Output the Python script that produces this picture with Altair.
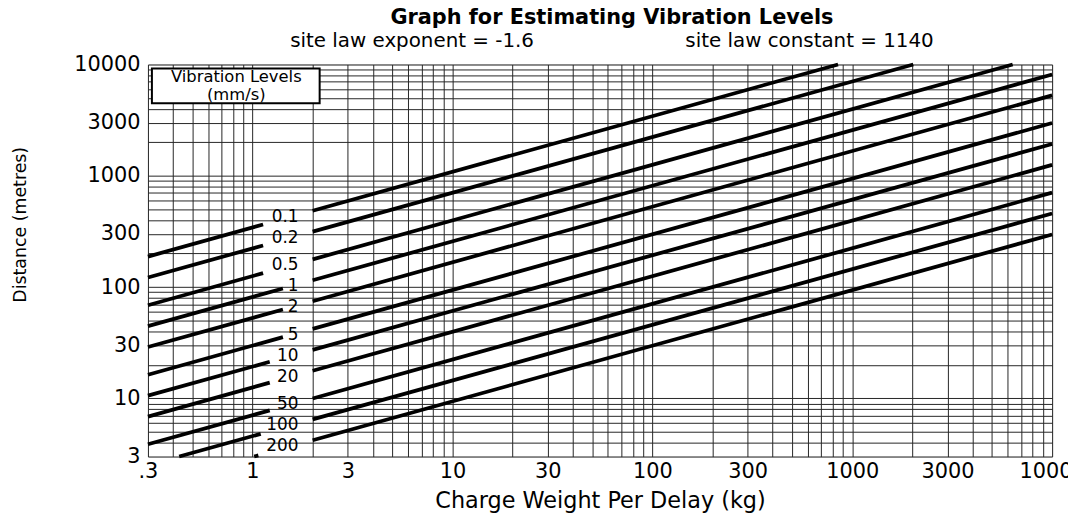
import altair as alt
import pandas as pd

# ---------------- data ----------------
levels = ["0.1", "0.2", "0.5", "1", "2", "5", "10", "20", "50", "100", "200"]

# left segment of each line (left of the label gap)
left_w0 = [0.3, 0.3, 0.3, 0.3, 0.3, 0.3, 0.3, 0.3, 0.3, 0.43, 1.02]
left_d0 = [187.9, 121.9, 68.7, 44.6, 28.9, 16.3, 10.57, 6.86, 3.87, 3.0, 3.0]
left_w1 = [1.13, 1.13, 1.13, 1.42, 1.42, 1.42, 1.22, 1.22, 1.22, 1.10, 1.07]
left_d1 = [364.7, 236.5, 133.4, 97.0, 62.9, 35.5, 21.3, 13.83, 7.80, 4.80, 3.07]

# right segment of each line (right of the label gap)
right_w0 = [2, 2, 2, 2, 2, 2, 2, 2, 2, 2, 2]
right_d0 = [485.2, 314.7, 177.5, 115.1, 74.6, 42.1, 27.3, 17.7, 9.98, 6.47, 4.20]
right_w1 = [849.5, 2020, 6349, 10000, 10000, 10000, 10000, 10000, 10000, 10000, 10000]
right_d1 = [10000, 10000, 10000, 8139, 5277, 2977, 1930, 1252, 706, 458, 297]

# level labels
label_w = [1.70] * 11
label_d = [446, 289, 163, 105.8, 68.6, 38.7, 25.1, 16.3, 9.18, 5.95, 3.86]

# axis ticks
x_tick_vals = [0.3, 1, 3, 10, 30, 100, 300, 1000, 3000, 10000]
x_tick_text = [".3", "1", "3", "10", "30", "100", "300", "1000", "3000", "10000"]
y_tick_vals = [3, 10, 30, 100, 300, 1000, 3000, 10000]
y_tick_text = ["3", "10", "30", "100", "300", "1000", "3000", "10000"]
grid_mult = [1, 2, 3, 4, 5, 6, 7, 8, 9]

# ---------------- tables ----------------
rows = []
for i, lv in enumerate(levels):
    rows.append({"seg": "L" + lv, "W": left_w0[i], "D": left_d0[i], "o": 0})
    rows.append({"seg": "L" + lv, "W": left_w1[i], "D": left_d1[i], "o": 1})
    rows.append({"seg": "R" + lv, "W": right_w0[i], "D": right_d0[i], "o": 0})
    rows.append({"seg": "R" + lv, "W": right_w1[i], "D": right_d1[i], "o": 1})
lines_df = pd.DataFrame(rows)
labels_df = pd.DataFrame({"W": label_w, "D": label_d, "lab": levels})


def grid_values(lo, hi):
    out = []
    for e in range(-2, 6):
        for m in grid_mult:
            v = round(m * 10 ** e, 6)
            if lo <= v <= hi:
                out.append(v)
    return sorted(set(out))


def label_expr(vals, texts):
    e = "''"
    for v, t in zip(reversed(vals), reversed(texts)):
        e = f"abs(datum.value - {v}) < {v} * 1e-6 ? '{t}' : ({e})"
    return e


FONT = "DejaVu Sans"
GRID = "#262626"

xscale = alt.Scale(type="log", domain=[0.3, 10000], nice=False)
yscale = alt.Scale(type="log", domain=[3, 10000], nice=False)

x_axis = alt.Axis(
    values=grid_values(0.3, 10000), labelExpr=label_expr(x_tick_vals, x_tick_text),
    grid=True, gridColor=GRID, gridWidth=1, gridOpacity=1,
    ticks=False, domain=False, labelFont=FONT, labelFontSize=21, labelColor="black",
    labelPadding=4, labelOverlap=False, labelFlush=False, labelBound=False,
    title="Charge Weight Per Delay (kg)", titleFont=FONT, titleFontSize=22.5,
    titleFontWeight="normal", titleColor="black", titleY=44, titleBaseline="middle",
)
y_axis = alt.Axis(
    values=grid_values(3, 10000), labelExpr=label_expr(y_tick_vals, y_tick_text),
    grid=True, gridColor=GRID, gridWidth=1, gridOpacity=1,
    ticks=False, domain=False, labelFont=FONT, labelFontSize=21, labelColor="black",
    labelPadding=8, labelOverlap=False, labelFlush=False, labelBound=False,
    title="Distance (metres)", titleFont=FONT, titleFontSize=17.5,
    titleFontWeight="normal", titleColor="black", titleX=-128, titleY=161,
    titleBaseline="middle", titleAlign="center", titleAngle=270,
)

x_enc = alt.X("W:Q", scale=xscale, axis=x_axis)
y_enc = alt.Y("D:Q", scale=yscale, axis=y_axis)

lines = alt.Chart(lines_df).mark_line(
    color="black", strokeWidth=3.8, strokeCap="butt"
).encode(x=x_enc, y=y_enc, detail="seg:N", order="o:Q")

labels = alt.Chart(labels_df).mark_text(
    align="right", baseline="middle", font=FONT, fontSize=17, color="black", dy=2
).encode(x=x_enc, y=y_enc, text="lab:N")

box = alt.Chart(alt.Data(values=[{"k": 0}])).mark_rect(
    fill="white", stroke="black", strokeWidth=2
).encode(x=alt.value(4), x2=alt.value(173), y=alt.value(4), y2=alt.value(39))

box_text = alt.Chart(alt.Data(values=[{"k": 0}])).mark_text(
    text=["Vibration Levels", "(mm/s)"], font=FONT, fontSize=16.5, color="black",
    align="center", baseline="middle", lineHeight=18
).encode(x=alt.value(89), y=alt.value(13))

subtitle = "site law exponent = -1.6" + "\u00a0" * 24 + "site law constant = 1140"

chart = alt.layer(lines, labels, box, box_text).properties(
    width=911, height=395,
    autosize=alt.AutoSizeParams(type="none"),
    padding={"left": 141, "top": 55, "right": 16, "bottom": 59},
    title=alt.TitleParams(
        text="Graph for Estimating Vibration Levels", subtitle=subtitle,
        font=FONT, fontSize=21, fontWeight="bold", color="black",
        subtitleFont=FONT, subtitleFontSize=20, subtitleColor="black",
        anchor="middle", frame="group", dx=12, offset=3, subtitlePadding=3,
    ),
).configure_view(stroke="black", strokeWidth=4).configure(background="white")

chart.save("out.html", embed_options={"renderer": "svg", "actions": False})
